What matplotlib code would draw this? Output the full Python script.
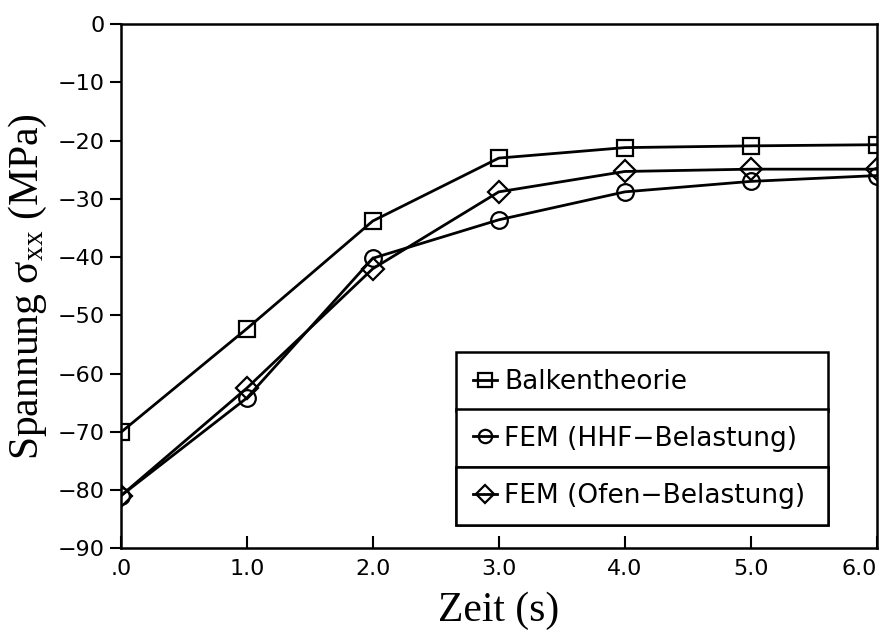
import matplotlib
matplotlib.use("Agg")
import matplotlib.pyplot as plt

# Spannung über Zeit
zeit = [0.0, 1.0, 2.0, 3.0, 4.0, 5.0, 6.0]
balken = [-70.1, -52.3, -33.8, -23.0, -21.2, -20.9, -20.7]
fem_hhf = [-81.0, -64.2, -40.2, -33.6, -28.8, -27.0, -26.0]
fem_ofen = [-81.0, -62.5, -42.0, -28.8, -25.3, -24.9, -24.9]

namen = ["Balkentheorie", "FEM (HHF\u2212Belastung)", "FEM (Ofen\u2212Belastung)"]
marker = ["s", "o", "D"]

x_ticks = [0, 1, 2, 3, 4, 5, 6]
x_labels = [".0", "1.0", "2.0", "3.0", "4.0", "5.0", "6.0"]
y_ticks = [0, -10, -20, -30, -40, -50, -60, -70, -80, -90]

plt.rcParams["mathtext.fontset"] = "stix"

fig = plt.figure(figsize=(8.82, 6.36), dpi=100)
ax = fig.add_axes([0.137, 0.138, 0.857, 0.824])

linien = []
for werte, name, m in zip([balken, fem_hhf, fem_ofen], namen, marker):
    ms = 11 if m == "D" else 12
    l, = ax.plot(zeit, werte, color="black", lw=2.0, marker=m, ms=ms,
                 mfc="none", mec="black", mew=1.6, label=name)
    linien.append(l)

ax.set_xlim(0, 6)
ax.set_ylim(-90, 0)
ax.set_xticks(x_ticks)
ax.set_xticklabels(x_labels)
ax.get_xticklabels()[-1].set_horizontalalignment("right")
ax.set_yticks(y_ticks)
ax.set_yticklabels([str(v).replace("-", "\u2212") for v in y_ticks])
ax.tick_params(axis="x", direction="in", length=9, width=1.5, labelsize=16, pad=8)
ax.tick_params(axis="y", direction="out", length=8, width=1.5, labelsize=16)
for s in ax.spines.values():
    s.set_linewidth(1.8)

ax.set_xlabel("Zeit (s)", family="Liberation Serif", fontsize=30, labelpad=9)
ax.set_ylabel(r"Spannung $\mathregular{\sigma_{xx}}$ (MPa)",
              family="Liberation Serif", fontsize=30, labelpad=6)

# Legende: drei gestapelte Kästen
zeilen = [(0.263, 0.109), (0.155, 0.108), (0.044, 0.111)]
for l, (y0, h) in zip(linien, zeilen):
    leg = ax.legend(handles=[l], loc="center left",
                    bbox_to_anchor=(0.444, y0, 0.491, h), mode="expand",
                    frameon=True, fancybox=False, edgecolor="black",
                    framealpha=1, fontsize=19, handlelength=0.9,
                    handletextpad=0.3, borderpad=0.62, borderaxespad=0,
                    markerscale=0.8)
    leg.get_frame().set_linewidth(1.8)
    ax.add_artist(leg)

fig.savefig("out.png", dpi=100)
